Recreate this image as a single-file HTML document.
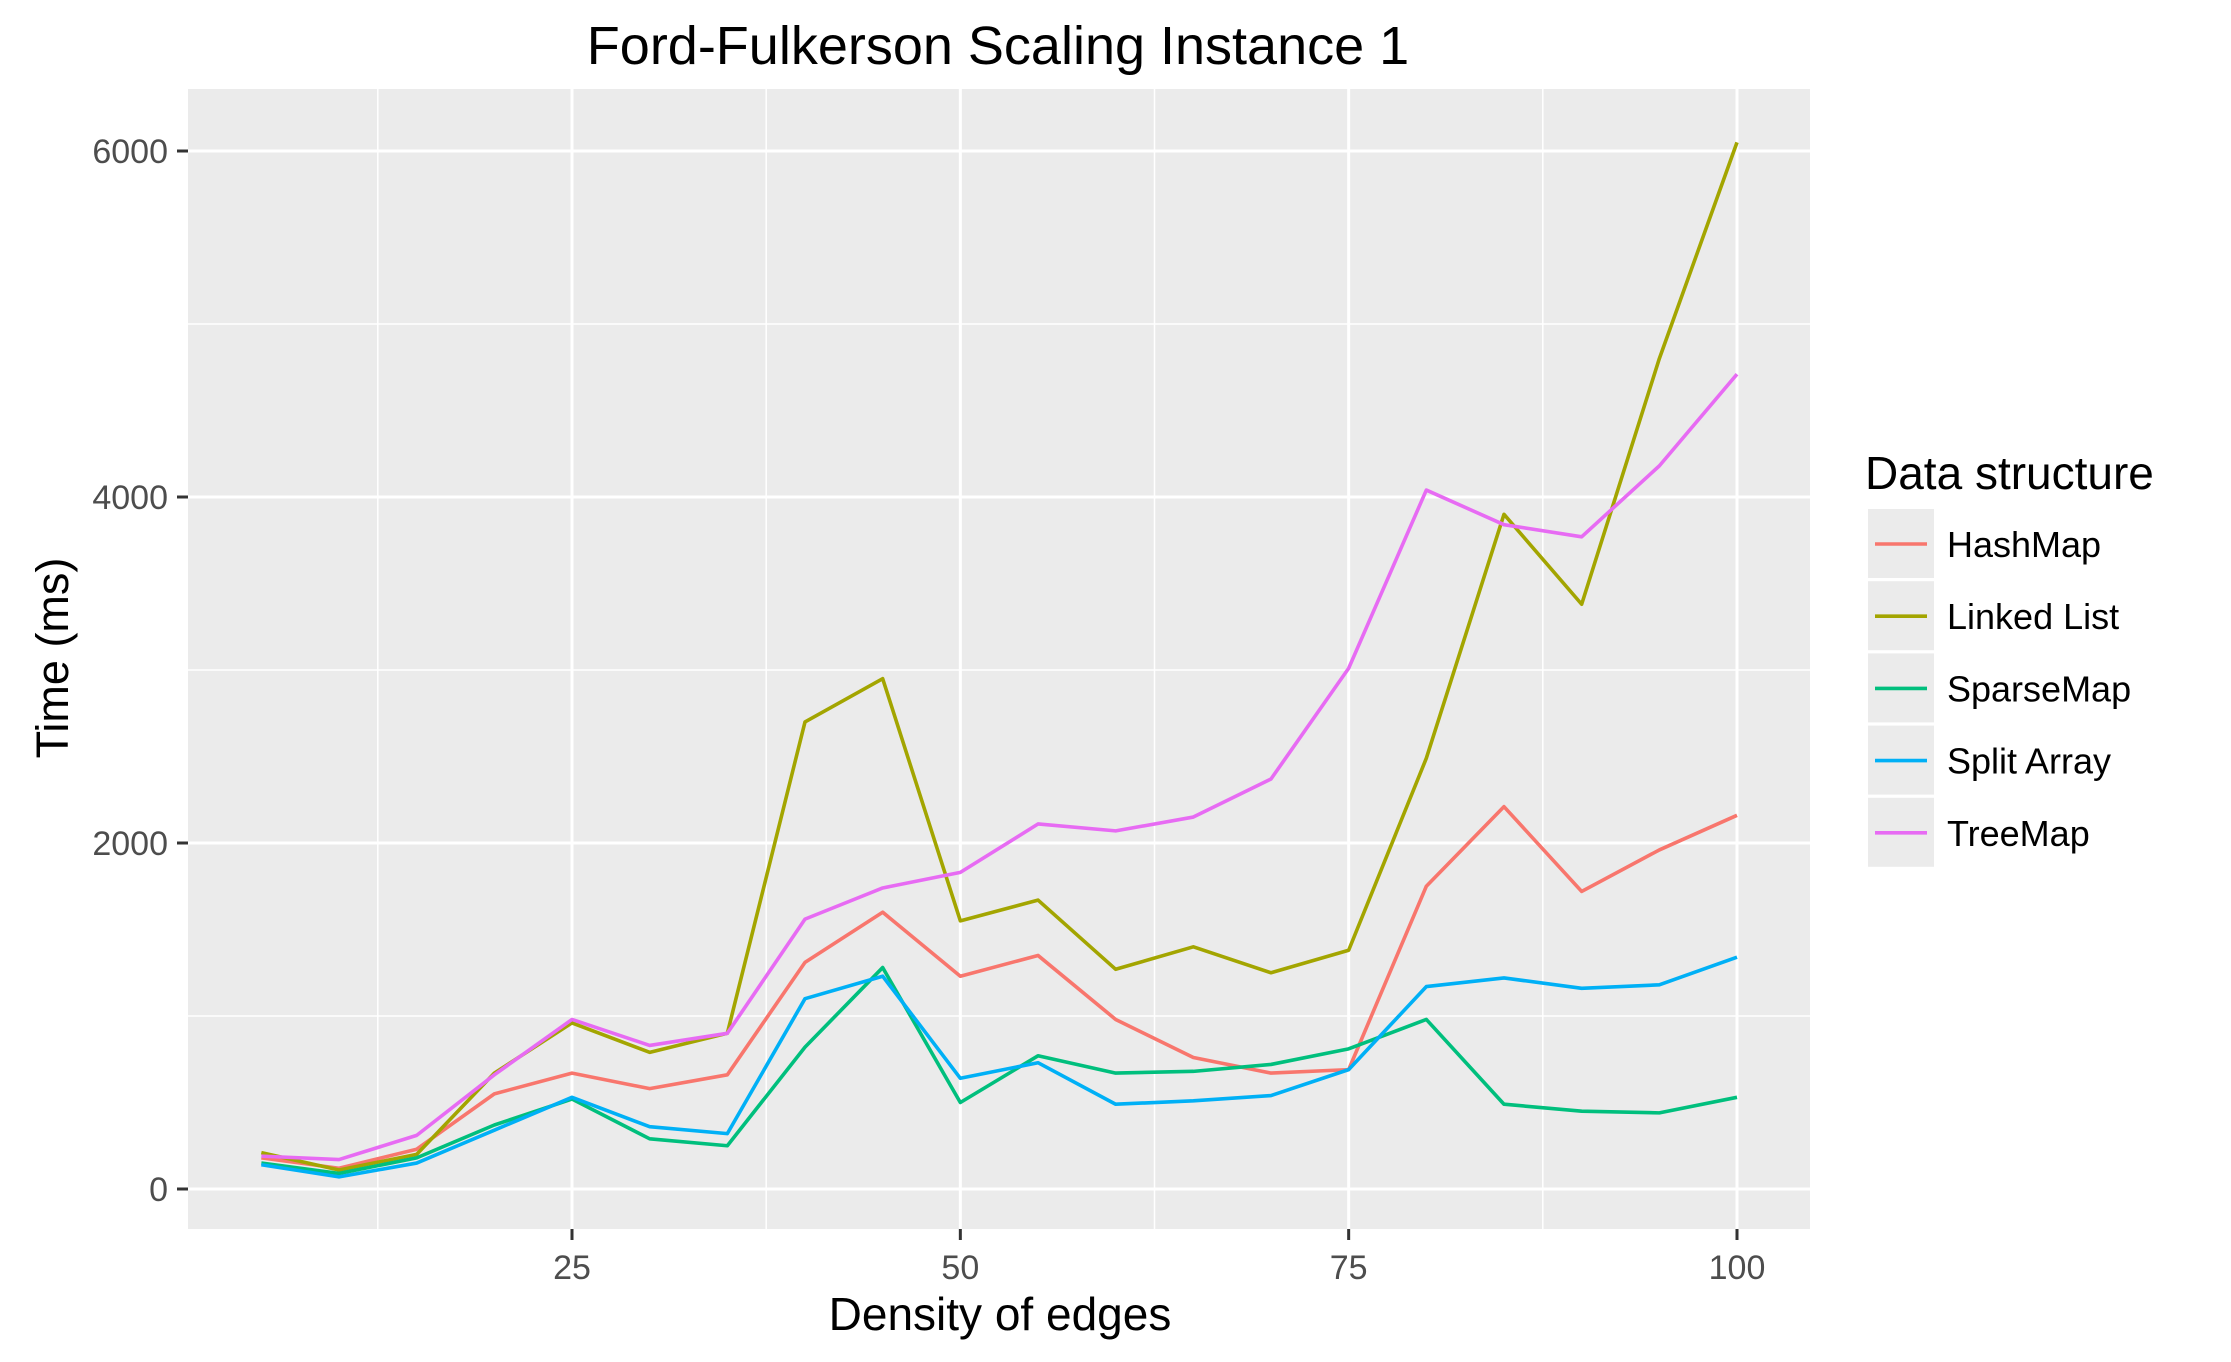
<!DOCTYPE html>
<html><head><meta charset="utf-8"><style>
html,body{margin:0;padding:0;background:#fff}
svg{display:block;font-family:"Liberation Sans",sans-serif}
</style></head><body>
<svg id="chart" width="2231" height="1362" viewBox="0 0 2231 1362">
<text x="998" y="64" font-size="54" text-anchor="middle" fill="#000">Ford-Fulkerson Scaling Instance 1</text>
<rect x="188" y="89" width="1622" height="1140" fill="#EBEBEB"/>
<g id="grid"></g>
<g id="lines"></g>
<g id="axes"></g>
<text x="1000" y="1330" font-size="46" text-anchor="middle" fill="#000">Density of edges</text>
<text transform="translate(68,658) rotate(-90)" font-size="45" text-anchor="middle" fill="#000">Time (ms)</text>
<g id="legend">
<text x="1865" y="489" font-size="46" fill="#000">Data structure</text>
</g>
</svg>
<script>
const xs = [5,10,15,20,25,30,35,40,45,50,55,60,65,70,75,80,85,90,95,100];
const seriesNames = ["HashMap","Linked List","SparseMap","Split Array","TreeMap"];
const hashMap = [180,120,230,550,670,580,660,1310,1600,1230,1350,980,760,670,690,1750,2210,1720,1960,2160];
const linkedList = [210,110,200,670,960,790,900,2700,2950,1550,1670,1270,1400,1250,1380,2490,3900,3380,4800,6050];
const sparseMap = [150,90,180,370,520,290,250,820,1280,500,770,670,680,720,810,980,490,450,440,530];
const splitArray = [140,70,150,340,530,360,320,1100,1230,640,730,490,510,540,690,1170,1220,1160,1180,1340];
const treeMap = [190,170,310,660,980,830,900,1560,1740,1830,2110,2070,2150,2370,3010,4040,3840,3770,4180,4710];
const xTicks = [25,50,75,100];
const xMinor = [12.5,37.5,62.5,87.5];
const yTicks = [0,2000,4000,6000];
const yMinor = [1000,3000,5000];

const colors = ["#F8766D","#A3A500","#00BF7D","#00B0F6","#E76BF3"];
const allSeries = [hashMap,linkedList,sparseMap,splitArray,treeMap];
const NS = "http://www.w3.org/2000/svg";
const X = v => 572 + (v-25)*(1737-572)/75;
const Y = v => 1189 - v*(1189-151)/6000;
function mk(tag, attrs, parent){const e=document.createElementNS(NS,tag);for(const k in attrs)e.setAttribute(k,attrs[k]);parent.appendChild(e);return e;}
const grid=document.getElementById('grid'), lines=document.getElementById('lines'), axes=document.getElementById('axes'), legend=document.getElementById('legend');
yMinor.forEach(v=>{const l=mk('line',{x1:188,x2:1810,y1:Y(v),y2:Y(v),stroke:'#fff','stroke-width':1.5},grid);

});
xMinor.forEach(v=>{const l=mk('line',{x1:X(v),x2:X(v),y1:89,y2:1229,stroke:'#fff','stroke-width':1.5},grid);

});
yTicks.forEach(v=>{const l=mk('line',{x1:188,x2:1810,y1:Y(v),y2:Y(v),stroke:'#fff','stroke-width':3},grid);


const t=mk('line',{x1:177,x2:188,y1:Y(v),y2:Y(v),stroke:'#333','stroke-width':3},axes);


const tx=mk('text',{x:168,y:Y(v)+12,'font-size':34,'text-anchor':'end',fill:'#4D4D4D'},axes);tx.textContent=v;

});
xTicks.forEach(v=>{const l=mk('line',{x1:X(v),x2:X(v),y1:89,y2:1229,stroke:'#fff','stroke-width':3},grid);


const t=mk('line',{x1:X(v),x2:X(v),y1:1229,y2:1240,stroke:'#333','stroke-width':3},axes);


const tx=mk('text',{x:X(v),y:1279,'font-size':34,'text-anchor':'middle',fill:'#4D4D4D'},axes);tx.textContent=v;

});
allSeries.forEach((s,i)=>{const p=mk('polyline',{points:s.map((v,j)=>X(xs[j])+','+Y(v)).join(' '),fill:'none',stroke:colors[i],'stroke-width':3.6,'stroke-linejoin':'round'},lines);


const yc=544+i*72.2;
const r=mk('rect',{x:1868,y:yc-35,width:66,height:69,fill:'#EBEBEB'},legend);


const ln=mk('line',{x1:1875,x2:1927,y1:yc,y2:yc,stroke:colors[i],'stroke-width':3.6},legend);


const t=mk('text',{x:1947,y:yc+13,'font-size':36,fill:'#000'},legend);t.textContent=seriesNames[i];

});
</script>
</body></html>
